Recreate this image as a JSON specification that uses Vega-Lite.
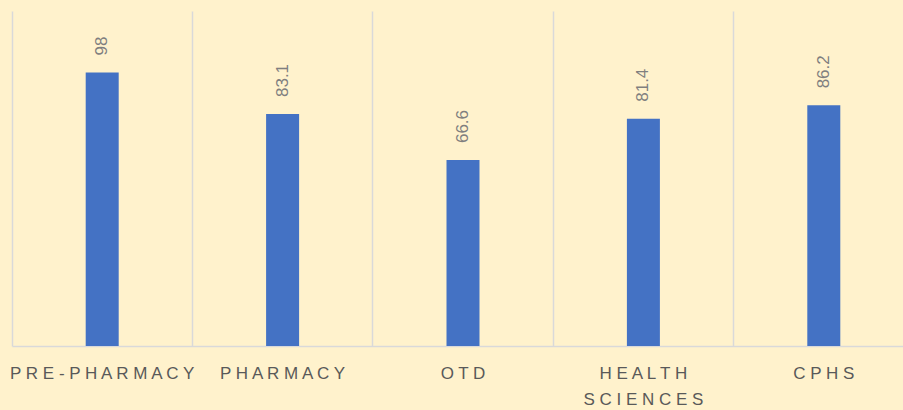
{
  "$schema": "https://vega.github.io/schema/vega-lite/v6.json",
  "width": 902,
  "height": 335,
  "autosize": {"type": "none"},
  "padding": {"left": 12, "top": 11, "right": 0, "bottom": 64},
  "background": "#FFF2CC",
  "config": {"view": {"stroke": null}, "font": "Liberation Sans"},
  "data": {
    "values": [
      {"program": "PRE-PHARMACY", "value": 98},
      {"program": "PHARMACY", "value": 83.1},
      {"program": "OTD", "value": 66.6},
      {"program": "HEALTH SCIENCES", "value": 81.4},
      {"program": "CPHS", "value": 86.2}
    ]
  },
  "encoding": {
    "x": {
      "field": "program",
      "type": "nominal",
      "sort": null,
      "scale": {"paddingInner": 0, "paddingOuter": 0},
      "axis": {
        "title": null,
        "labelAngle": 0,
        "ticks": false,
        "domain": true,
        "domainColor": "#D9D9D9",
        "domainWidth": 1.5,
        "grid": true,
        "gridColor": "#D9D9D9",
        "gridWidth": 1.5,
        "bandPosition": 0,
        "labelFont": "Liberation Sans",
        "labelFontSize": 17,
        "labelColor": "#595959",
        "labelPadding": 19,
        "labelLineHeight": 26,
        "labelOverlap": false,
        "labelBound": false,
        "labelLimit": 0,
        "labelExpr": "datum.label == 'HEALTH SCIENCES' ? ['H E A L T H', 'S C I E N C E S'] : join(split(datum.label, ''), ' ')"
      }
    },
    "y": {
      "field": "value",
      "type": "quantitative",
      "scale": {"domain": [0, 120]},
      "axis": null
    }
  },
  "layer": [
    {"mark": {"type": "bar", "size": 33, "color": "#4472C4"}},
    {
      "mark": {
        "type": "text",
        "angle": -90,
        "align": "left",
        "baseline": "middle",
        "dx": 17,
        "fontSize": 17,
        "color": "#7F7F7F"
      },
      "encoding": {"text": {"field": "value", "type": "quantitative"}}
    }
  ]
}
